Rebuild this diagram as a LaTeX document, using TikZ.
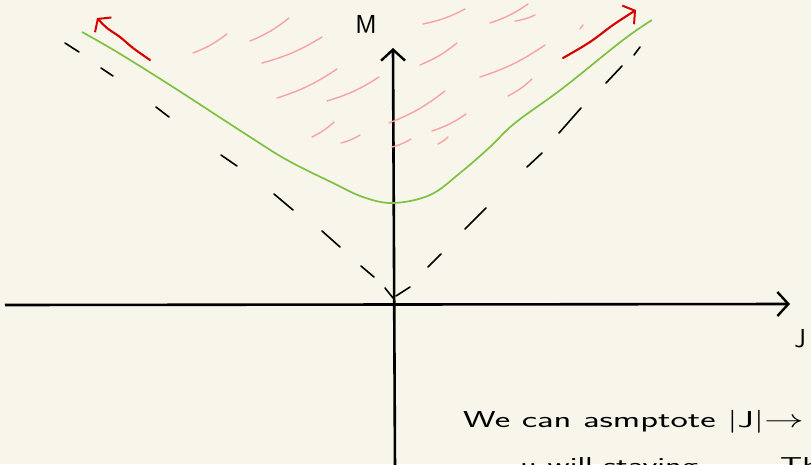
\documentclass[tikz,border=0pt]{standalone}
\usepackage{fontspec}
\usepackage{tikz}
\usetikzlibrary{arrows.meta}
\definecolor{sketchpaper}{HTML}{F8F6EA}
\definecolor{sketchgreen}{HTML}{7DC242}
\definecolor{sketchred}{HTML}{D60000}
\definecolor{sketchpink}{HTML}{F7A3A3}
\tikzset{
  axis/.style={line width=2.6pt, -{Straight Barb[length=11pt, width=24pt, line width=2.4pt]}},
  asym/.style={line width=1.6pt, line cap=round},
  curve/.style={line width=1.7pt, draw=sketchgreen},
  flowr/.style={line width=2.1pt, draw=sketchred, line cap=round,
                -{Straight Barb[length=8pt, width=22pt, line width=2pt]}},
  hatch/.style={line width=1.4pt, draw=sketchpink, line cap=round},
  lbl/.style={font=\sffamily\fontsize{26}{30}\selectfont},
  note/.style={font=\sffamily\fontsize{23}{27}\selectfont, anchor=base west, inner sep=0pt},
}

\begin{document}
\begin{tikzpicture}[x=1pt, y=-1pt]
  \fill[sketchpaper] (0,0) rectangle (811,464);
  \useasboundingbox (0,0) rectangle (811,464);
  \clip (0,0) rectangle (811,464);
  % axes
  \coordinate (o) at (395,304);
  \coordinate (xbeg) at (5,305);
  \coordinate (xend) at (790,304);
  \coordinate (ybot) at (395,470);
  \coordinate (yend) at (393,48);
  \draw[axis] (xbeg) -- (xend);
  \draw[axis] (ybot) -- (yend);
  \node[lbl] (mlbl) at (366,24) {M};
  \node[lbl] (jlbl) at (800,339) {J};
  % asymptotes, drawn dash by dash
  \foreach \ax/\ay/\bx/\by in {65/43/79/52, 101/68/113/76, 156/107/169/117, 221/155/237/166,
      274/194/293/210, 322/231/340/247, 361/266/374/277, 385/288/393/298,
      396/296/410/287, 428/267/441/254, 465/229/486/208, 527/167/542/153,
      559/133/581/108, 606/83/622/66, 634/55/640/47}
    \draw[asym] (\ax,\ay) -- (\bx,\by);
  % allowed region
  \foreach \ax/\ay/\bx/\by in {193/53/227/34, 250/41/289/18, 262/63/322/37, 277/98/337/69,
      327/101/379/77, 312/137/334/122, 341/143/360/135, 389/123/445/91,
      392/147/411/139, 420/65/457/43, 423/24/465/9, 432/131/466/114,
      438/144/448/137, 480/77/545/45, 490/23/528/4, 515/21/535/15,
      508/96/532/79, 580/29/583/25}
    \draw[hatch] (\ax,\ay) to[bend right=8] (\bx,\by);
  % curve
  \draw[curve] plot[smooth, tension=0.6] coordinates {(82,32) (117,52) (173,87) (247,135)
      (287,160) (333,183) (363,197) (393,203) (430,195) (460,173) (490,147)
      (515,123) (563,88) (623,40) (652,20)};
  % running off to infinity
  \draw[flowr] plot[smooth, tension=0.6] coordinates {(150,60) (133,48) (120,37) (107,28) (97,18)};
  \draw[flowr] plot[smooth, tension=0.6] coordinates {(563,58) (590,42) (613,25) (636,10)};
  % note
  \node[note] (note1) at (463,427) {\scalebox{1.6}[1]{We can asmptote |J|$\to$}};
  \node[note] (note2) at (520,473) {\scalebox{1.5}[1]{u will staying}};
  \node[note] (note3) at (780,473) {\scalebox{1.5}[1]{Th}};
\end{tikzpicture}
\end{document}
